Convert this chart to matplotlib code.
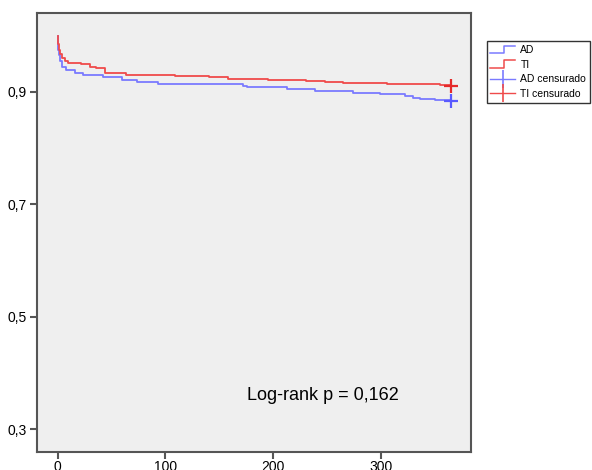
import numpy as np
import matplotlib
matplotlib.use('Agg')
import matplotlib.pyplot as plt
from matplotlib.lines import Line2D
from matplotlib.legend_handler import HandlerBase

plt.rcParams['font.family'] = ['Liberation Sans', 'DejaVu Sans']

# Kaplan-Meier steps (time in days, survival)
ad_t = [0, 0.3, 1, 2, 4, 8, 16, 24, 42, 60, 74, 93, 172, 176, 213, 239,
        274, 299, 322, 330, 336, 350, 365]
ad_s = [1.0, 0.975, 0.965, 0.955, 0.945, 0.939, 0.933, 0.930, 0.927, 0.922,
        0.918, 0.914, 0.911, 0.909, 0.905, 0.902, 0.899, 0.896, 0.892, 0.890,
        0.888, 0.886, 0.884]
ti_t = [0, 0.5, 1, 2, 4, 7, 10, 22, 30, 36, 44, 64, 109, 141, 158, 195,
        231, 248, 265, 306, 355, 365]
ti_s = [1.0, 0.985, 0.975, 0.968, 0.960, 0.955, 0.952, 0.949, 0.945, 0.942,
        0.933, 0.931, 0.928, 0.926, 0.923, 0.921, 0.919, 0.917, 0.916, 0.915,
        0.912, 0.911]
ad_cens = ([365], [0.884])
ti_cens = ([365], [0.911])

blue = '#7a7aff'
red = '#ef4b4b'

fig = plt.figure(figsize=(5.92, 4.70), dpi=100)
ax = fig.add_axes([0.062, 0.039, 0.7335, 0.9327])
ax.set_facecolor('#efefef')

ax.plot(ad_t, ad_s, drawstyle='steps-post', color=blue, lw=1.3)
ax.plot(ti_t, ti_s, drawstyle='steps-post', color=red, lw=1.3)
ax.plot(*ad_cens, ls='none', marker='+', ms=10, mew=1.6, color='#5a5aff')
ax.plot(*ti_cens, ls='none', marker='+', ms=10, mew=1.6, color='#e52a2a')

ax.set_xlim(-19.3, 383.6)
ax.set_ylim(0.26, 1.04)
ax.set_xticks([0, 100, 200, 300])
ax.set_yticks([0.3, 0.5, 0.7, 0.9])
ax.set_yticklabels(['0,3', '0,5', '0,7', '0,9'])
ax.tick_params(direction='out', length=5, width=1.5, color='#555555',
               labelsize=10, pad=2)
ax.tick_params(axis='x', pad=1)
for sp in ax.spines.values():
    sp.set_color('#555555')
    sp.set_linewidth(1.5)

ax.text(176, 0.36, 'Log-rank p = 0,162', fontsize=13, va='center')


class StepHandler(HandlerBase):
    def create_artists(self, legend, orig, xd, yd, w, h, fontsize, trans):
        xs = [xd, xd + w * 0.55, xd + w * 0.55, xd + w]
        ys = [yd, yd, yd + h, yd + h]
        ln = Line2D(xs, ys, color=orig.get_color(), lw=1.1, transform=trans)
        return [ln]


h_ad = Line2D([], [], color=blue)
h_ti = Line2D([], [], color=red)
h_adc = Line2D([], [], color=blue, marker='|', ms=13, lw=1.0, mew=1.2)
h_tic = Line2D([], [], color=red, marker='|', ms=13, lw=1.0, mew=1.2)
leg = fig.legend([h_ad, h_ti, h_adc, h_tic],
                 ['AD', 'TI', 'AD censurado', 'TI censurado'],
                 handler_map={h_ad: StepHandler(), h_ti: StepHandler()},
                 loc='upper left', bbox_to_anchor=(0.822, 0.912),
                 fontsize=7.5, frameon=True, fancybox=False,
                 handlelength=2.4, handletextpad=0.5, labelspacing=0.45,
                 borderpad=0.35, borderaxespad=0)
leg.get_frame().set_edgecolor('black')
leg.get_frame().set_linewidth(1.0)

fig.savefig('out.png', dpi=100)
